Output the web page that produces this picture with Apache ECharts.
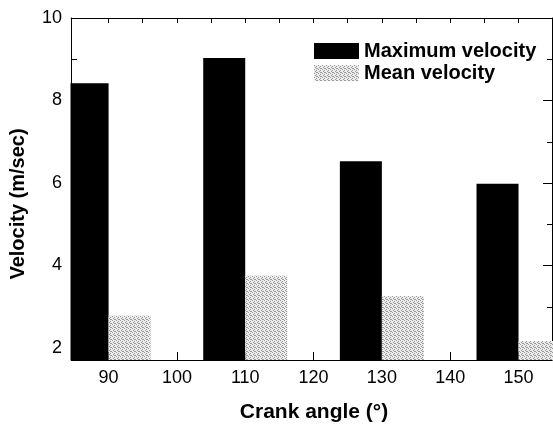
<!DOCTYPE html>
<html>
<head>
<meta charset="utf-8">
<script src="https://cdn.jsdelivr.net/npm/echarts@6/dist/echarts.min.js"></script>
<style>
  html, body { margin: 0; padding: 0; background: #fff; }
  #chart { width: 553px; height: 425px; }
</style>
</head>
<body>
<div id="chart"></div>
<script>
// crank angle groups and the two velocity series (m/sec)
var angles = [90, 110, 130, 150];
var maxVelocity = [8.42, 9.03, 6.53, 5.98];
var meanVelocity = [2.78, 3.75, 3.26, 2.17];

// axis ticks and labels
var xLabels = [90, 100, 110, 120, 130, 140, 150];
var xTopTicks = [90, 95, 100, 105, 110, 115, 120, 125, 130, 135, 140, 145, 150];
var yLabels = [2, 4, 6, 8, 10];
var yMinorTicks = [3, 5, 7, 9];

// stippled grey fill for the mean bars
function stipple() {
    var c = document.createElement('canvas');
    c.width = 4; c.height = 4;
    var g = c.getContext('2d');
    g.fillStyle = '#ececec';
    g.fillRect(0, 0, 4, 4);
    g.fillStyle = '#9a9a9a';
    g.fillRect(0, 0, 1, 1); g.fillRect(2, 1, 1, 1);
    g.fillRect(1, 2, 1, 1); g.fillRect(3, 3, 1, 1);
    g.fillRect(2, 3, 1, 1);
    return c;
}
var grey = { image: stipple(), repeat: 'repeat' };

function pairs(xs, ys) {
    return xs.map(function (x, i) { return [x, ys[i]]; });
}

var font = 'Liberation Sans, Arial, sans-serif';
var black = '#000';

var myChart = echarts.init(document.getElementById('chart'), null, { renderer: 'canvas' });

var option = {
    backgroundColor: '#fff',
    animation: false,
    grid: { left: 71, top: 18, right: 1, bottom: 65 },
    legend: {
        left: 309, top: 36,
        orient: 'vertical',
        itemWidth: 45, itemHeight: 16, itemGap: 2,
        textStyle: { fontFamily: font, fontWeight: 'bold', fontSize: 20, color: black },
        data: [
            { name: 'Maximum velocity', icon: 'rect' },
            { name: 'Mean velocity', icon: 'rect' }
        ]
    },
    graphic: [
        // the value axis does not clip bars sideways, so mask the overflow left of the frame
        {
            type: 'rect', z: 100, silent: true,
            shape: { x: 63, y: 10, width: 7.5, height: 352 },
            style: { fill: '#fff' }
        },
        // axis titles
        {
            type: 'text', x: 18, y: 204, rotation: Math.PI / 2,
            style: {
                text: 'Velocity (m/sec)', fill: black,
                font: 'bold 20px ' + font,
                textAlign: 'center', textVerticalAlign: 'middle'
            }
        },
        {
            type: 'text', x: 314, y: 412,
            style: {
                text: 'Crank angle (°)', fill: black,
                font: 'bold 21px ' + font,
                textAlign: 'center', textVerticalAlign: 'middle'
            }
        }
    ],
    xAxis: [
        {
            type: 'value', min: 84.5, max: 154.9,
            axisLine: { onZero: false, lineStyle: { color: black, width: 1 } },
            axisTick: { inside: true, length: 8, customValues: xLabels, lineStyle: { color: black } },
            axisLabel: { customValues: xLabels, margin: 9, fontFamily: font, fontSize: 18, color: black },
            splitLine: { show: false }
        },
        {
            type: 'value', min: 84.5, max: 154.9, position: 'top',
            axisLine: { onZero: false, lineStyle: { color: black, width: 1 } },
            axisTick: { inside: true, length: 5, customValues: xTopTicks, lineStyle: { color: black } },
            axisLabel: { show: false },
            splitLine: { show: false }
        }
    ],
    yAxis: [
        {
            type: 'value', min: 1.71, max: 10,
            axisLine: { onZero: false, lineStyle: { color: black, width: 1 } },
            axisTick: { inside: true, length: 6, customValues: yLabels.concat(yMinorTicks), lineStyle: { color: black } },
            axisLabel: { customValues: yLabels, margin: 9, fontFamily: font, fontSize: 18, color: black },
            splitLine: { show: false }
        },
        {
            type: 'value', min: 1.71, max: 10, position: 'right',
            axisLine: { onZero: false, lineStyle: { color: black, width: 1 } },
            axisTick: { inside: true, length: 9, customValues: yLabels, lineStyle: { color: black } },
            axisLabel: { show: false },
            splitLine: { show: false }
        },
        {
            type: 'value', min: 1.71, max: 10, position: 'right',
            axisLine: { show: false },
            axisTick: { inside: true, length: 5, customValues: yMinorTicks, lineStyle: { color: black } },
            axisLabel: { show: false },
            splitLine: { show: false }
        }
    ],
    series: [
        {
            name: 'Maximum velocity', type: 'bar',
            barWidth: 42, barGap: '0%',
            itemStyle: { color: black },
            data: pairs(angles, maxVelocity)
        },
        {
            name: 'Mean velocity', type: 'bar',
            barWidth: 42, barGap: '0%',
            itemStyle: { color: grey },
            data: pairs(angles, meanVelocity)
        }
    ]
};

myChart.setOption(option);
</script>
</body>
</html>
